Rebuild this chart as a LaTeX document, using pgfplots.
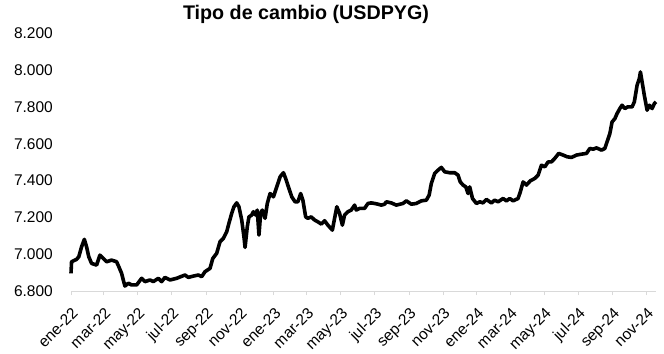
\documentclass[border=0pt]{standalone}
\usepackage{pgfplots}
\pgfplotsset{compat=1.18}
\usepackage{fontspec}
\setmainfont{Liberation Sans}
\definecolor{axgray}{HTML}{D9D9D9}
\begin{document}
\begin{tikzpicture}
\path[use as bounding box] (-71bp,-63bp) rectangle (593bp,291bp);
\begin{axis}[
  at={(0,0)}, anchor=origin,
  scale only axis, width=585bp, height=257.5bp,
  xmin=0, xmax=1052, ymin=6800, ymax=8200,
  axis x line=bottom, axis y line=left,
  x axis line style={draw=axgray, line width=1bp, -},
  y axis line style={draw=none},
  xtick={0,59,120,181,243,304,365,424,485,546,608,669,730,790,851,912,974,1035},
  xticklabels={ene-22,mar-22,may-22,jul-22,sep-22,nov-22,ene-23,mar-23,may-23,jul-23,sep-23,nov-23,ene-24,mar-24,may-24,jul-24,sep-24,nov-24},
  ytick={6800,7000,...,8200},
  x tick style={draw=axgray, line width=1bp},
  y tick style={draw=none},
  tick align=outside,
  major tick length=4bp,
  yticklabel style={font=\fontsize{15.5bp}{18bp}\selectfont, anchor=east, inner sep=0pt, xshift=-14bp},
  xticklabel style={font=\fontsize{15.5bp}{18bp}\selectfont, xshift=0bp, yshift=-10bp, rotate=45, anchor=north east, inner sep=1bp},
  clip=false,
  /pgf/number format/.cd, fixed, 1000 sep={.}, assume math mode=true,
]
\addplot[black, line width=3.6bp, line join=round] coordinates {
(0,6896) (1,6959) (10,6972) (14,6986) (19,7040) (24,7081) (28,7040) (32,6986) (37,6950) (46,6941) (52,6995) (58,6977) (64,6959) (73,6968) (82,6959) (86,6932) (91,6896) (94,6860) (97,6827) (103,6842) (109,6833) (118,6833) (127,6869) (133,6851) (142,6860) (148,6851) (157,6869) (163,6851) (169,6874) (178,6860) (190,6869)
(205,6887) (211,6874) (220,6881) (229,6887) (235,6878) (241,6905) (250,6923) (255,6977) (262,7005) (268,7068) (274,7086) (280,7122) (284,7168) (289,7222) (293,7258) (298,7279) (302,7258) (307,7186) (311,7095) (313,7037) (317,7149) (320,7203) (325,7213) (328,7231) (332,7213) (335,7240) (338,7104) (341,7222) (344,7240) (349,7195) (353,7276) (358,7330) (364,7312) (368,7348) (373,7393) (376,7421) (382,7443) (386,7412) (391,7366) (397,7312) (403,7285) (408,7285) (413,7330) (417,7294) (422,7203) (426,7195) (432,7203) (438,7186) (444,7176) (450,7164) (456,7182) (462,7158) (470,7131) (474,7195) (478,7258) (483,7222) (488,7158) (492,7213) (498,7231) (504,7240) (510,7267) (513,7240) (519,7249) (528,7249) (534,7276) (540,7279) (546,7276) (552,7272) (558,7267) (564,7272) (567,7285) (576,7279) (585,7267) (597,7276) (603,7290) (612,7272) (621,7276) (630,7290) (639,7294) (644,7321) (648,7385) (654,7439) (660,7457) (666,7472) (672,7448) (681,7443) (690,7443) (696,7430) (700,7393) (705,7376) (710,7366) (714,7330) (717,7366) (722,7303) (729,7276) (735,7285) (741,7279) (747,7298) (753,7285) (756,7279) (762,7294) (768,7285) (777,7303) (783,7290) (789,7303) (795,7290) (804,7303) (808,7339) (813,7393) (819,7376) (826,7399) (834,7412) (840,7430) (846,7484) (852,7475) (858,7502) (864,7502) (870,7521) (877,7548) (885,7539) (892,7530) (900,7526) (909,7539) (918,7544) (927,7548) (933,7575) (939,7571) (945,7578) (954,7566) (960,7575) (964,7611) (969,7656) (973,7719) (978,7737) (982,7765) (987,7792) (991,7810) (996,7792) (1001,7801) (1009,7801) (1013,7828) (1018,7919) (1022,7955) (1024,7991) (1027,7937) (1031,7864) (1036,7783) (1040,7810) (1045,7792) (1049,7819) (1052,7828)
};
\end{axis}
\node[font=\bfseries\fontsize{19.7bp}{22bp}\selectfont, anchor=base] at (235bp,271bp) {Tipo de cambio (USDPYG)};
\end{tikzpicture}
\end{document}
